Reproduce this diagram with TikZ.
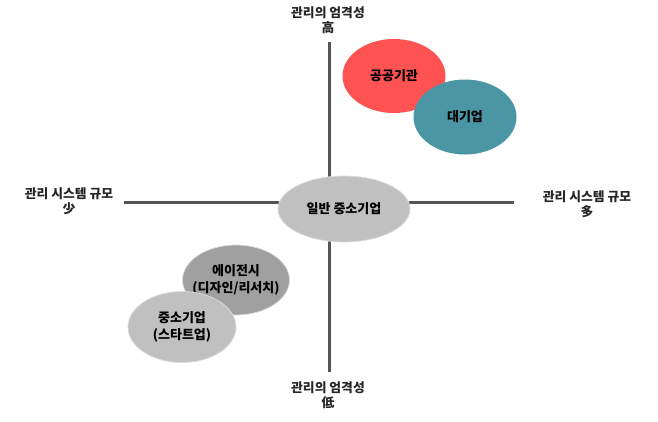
\documentclass[tikz,border=0pt]{standalone}
\usepackage{fontspec}
\setmainfont{Noto Sans CJK KR}
\usepackage{tikz}
\usetikzlibrary{shapes.geometric}
\tikzset{every picture/.style={line width=0.75pt}}
\definecolor{axisgray}{RGB}{85,85,85}
\definecolor{pubred}{RGB}{255,82,82}
\definecolor{bigteal}{RGB}{74,150,165}
\definecolor{midgray}{RGB}{192,192,192}
\definecolor{darkgray}{RGB}{160,160,160}
\definecolor{rimgray}{RGB}{220,220,220}
\tikzset{
  axisline/.style={draw=axisgray, line width=3pt},
  blob/.style={ellipse, inner sep=0pt},
  blobtext/.style={align=center, inner sep=0pt, font=\bfseries\fontsize{13}{17}\selectfont},
  axislabel/.style={align=center, font=\bfseries\fontsize{12.8}{15}\selectfont, text=black!85}
}

\begin{document}
\begin{tikzpicture}[x=1pt,y=1pt,yscale=-1,xscale=1]
	\useasboundingbox (0,0) rectangle (658,421);
	
	%Axis end points
	\coordinate (top) at (329,42);
	\coordinate (bottom) at (329,372);
	\coordinate (left) at (124,202);
	\coordinate (right) at (514,202);
	
	%Straight Lines
	\draw [axisline] (top) -- (bottom) ;
	%Straight Lines
	\draw [axisline] (left) -- (right) ;
	
	%Shape: Ellipse
	\node [blob, fill=pubred, minimum width=103, minimum height=74, label={[blobtext]center:공공기관}] (public) at (394,76) {};
	%Shape: Ellipse
	\node [blob, fill=bigteal, minimum width=103, minimum height=75, label={[blobtext]center:대기업}] (large) at (465,117) {};
	%Shape: Ellipse
	\node [blob, fill=midgray, draw=rimgray, minimum width=132, minimum height=66, label={[blobtext]center:일반 중소기업}] (general) at (344,209) {};
	%Shape: Ellipse
	\node [blob, fill=darkgray, draw=rimgray, minimum width=107, minimum height=70, label={[blobtext]center:에이전시\\(디자인/리서치)}] (agency) at (236,280) {};
	%Shape: Ellipse
	\node [blob, fill=midgray, draw=rimgray, minimum width=108, minimum height=71, label={[blobtext]center:중소기업\\(스타트업)}] (startup) at (182,327) {};
	
	% Text Node
	\node [axislabel] (strict) at (328,20) {관리의 엄격성\\高};
	% Text Node
	\node [axislabel] (loose) at (328,395) {관리의 엄격성\\低};
	% Text Node
	\node [axislabel] (lowsize) at (69,201) {관리 시스템 규모\\少};
	% Text Node
	\node [axislabel] (highsize) at (587,204) {관리 시스템 규모\\多};
	
\end{tikzpicture}
\end{document}
